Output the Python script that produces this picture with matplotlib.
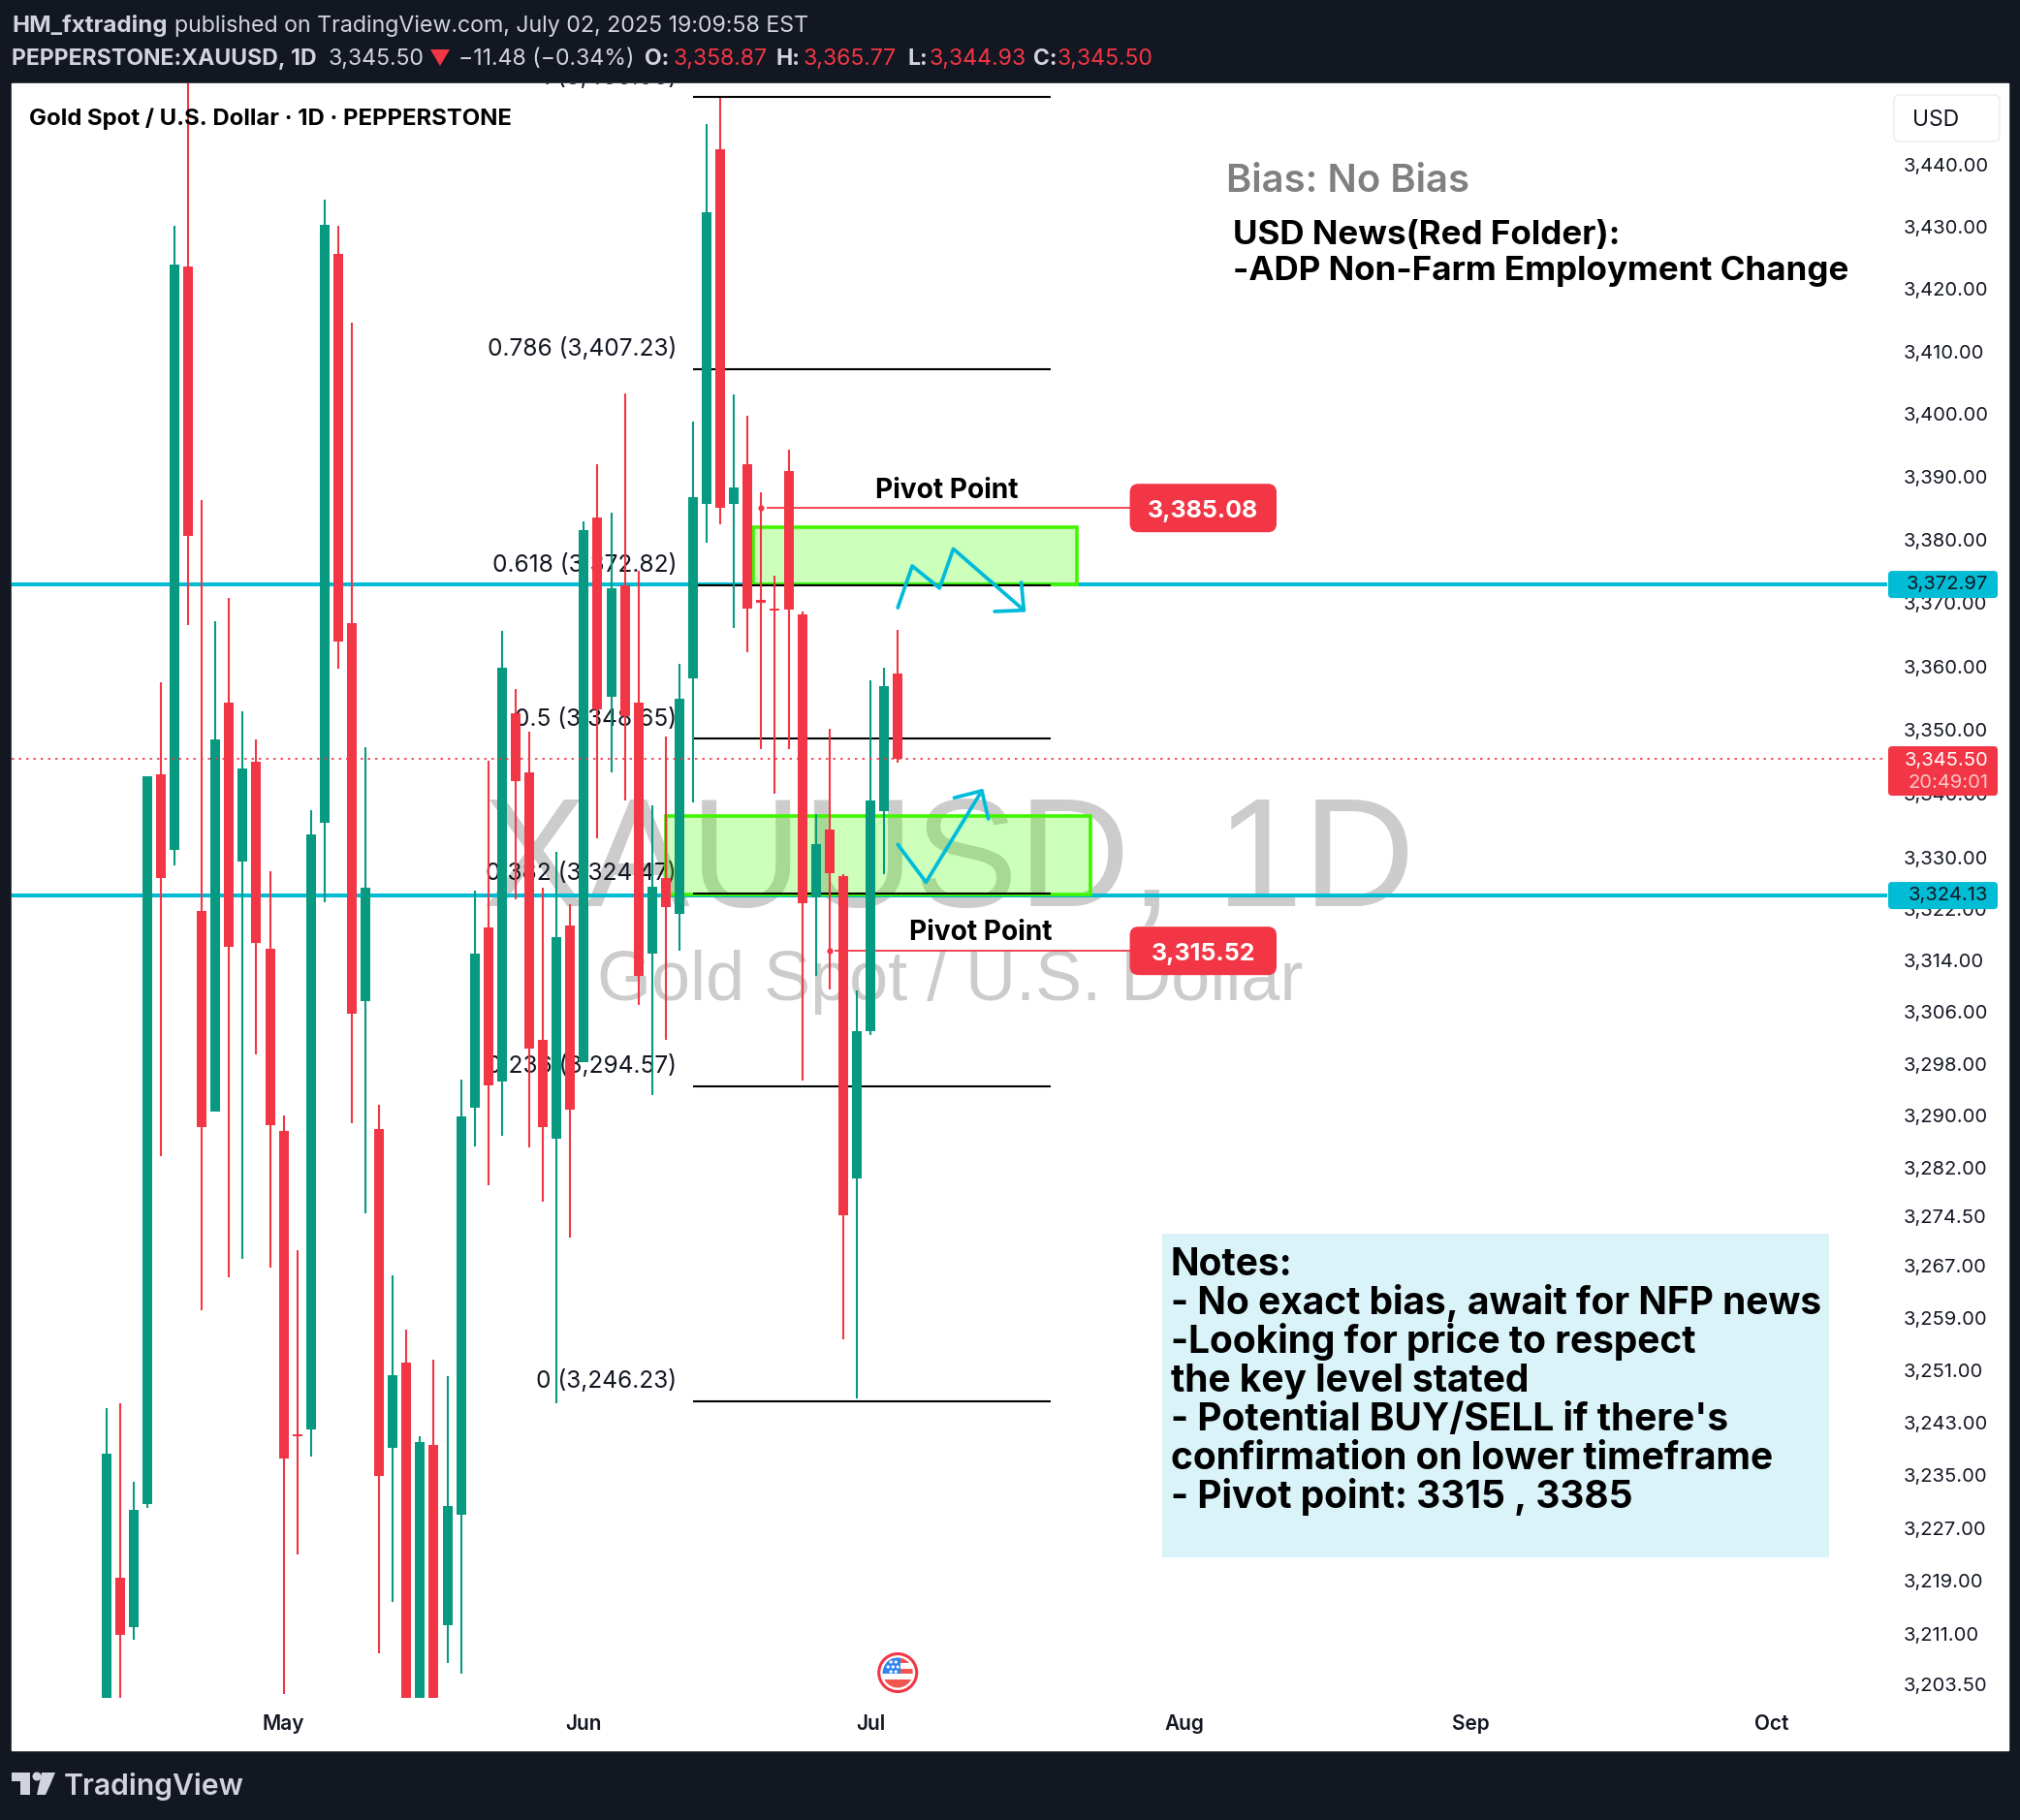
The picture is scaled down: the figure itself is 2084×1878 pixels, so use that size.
import matplotlib
matplotlib.use('Agg')
import matplotlib.pyplot as plt
from matplotlib.patches import Rectangle, FancyBboxPatch, Circle, Polygon
from matplotlib.ticker import NullLocator, NullFormatter

W, H = 2084, 1878
DARK = '#131722'
RED = '#F23645'
GREEN = '#089981'
CYAN = '#00BCD4'
LIME = '#46FF00'
FONT = 'Inter'

# daily candles (values under the chart bottom are estimates)
opens = [3175.0, 3219.5, 3212.1, 3230.6, 3343.1, 3331.2, 3423.6, 3321.8, 3290.6, 3354.3,
         3329.4, 3345.0, 3315.9, 3287.7, 3241.2, 3242.0, 3335.5, 3425.6, 3366.9, 3307.7,
         3287.9, 3239.1, 3252.2, 3195.0, 3239.6, 3212.4, 3229.0, 3291.2, 3319.1, 3295.2,
         3352.7, 3343.4, 3301.7, 3286.4, 3319.4, 3298.2, 3383.5, 3355.2, 3372.9, 3354.3,
         3315.1, 3326.8, 3321.2, 3358.1, 3385.8, 3442.5, 3385.8, 3392.0, 3370.5, 3369.2,
         3391.0, 3368.2, 3323.9, 3334.5, 3327.1, 3280.3, 3303.0, 3337.3, 3358.87]
highs = [3245.2, 3245.9, 3234.0, 3342.7, 3357.6, 3430.2, 3455.0, 3386.3, 3367.2, 3370.8,
         3352.9, 3348.5, 3327.9, 3290.1, 3269.3, 3337.4, 3434.4, 3430.1, 3414.6, 3347.3,
         3291.7, 3265.4, 3257.2, 3240.9, 3252.5, 3250.0, 3295.6, 3324.9, 3345.2, 3365.7,
         3356.5, 3349.7, 3325.4, 3331.0, 3322.8, 3382.9, 3392.0, 3384.3, 3403.3, 3375.2,
         3338.2, 3349.0, 3360.5, 3398.8, 3446.5, 3450.8, 3403.2, 3399.7, 3387.6, 3374.4,
         3394.4, 3368.7, 3336.8, 3350.2, 3327.4, 3309.3, 3357.9, 3359.8, 3365.77]
lows = [3170.0, 3195.0, 3210.2, 3230.0, 3283.8, 3328.9, 3366.6, 3260.1, 3290.6, 3265.1,
        3268.0, 3299.5, 3266.7, 3202.0, 3223.0, 3237.9, 3323.1, 3359.7, 3288.8, 3274.9,
        3208.1, 3215.8, 3190.0, 3190.0, 3190.0, 3206.7, 3205.0, 3285.3, 3279.3, 3286.9,
        3323.6, 3285.1, 3276.7, 3245.9, 3271.3, 3298.2, 3333.1, 3343.4, 3339.0, 3307.1,
        3293.1, 3301.7, 3315.6, 3338.7, 3379.6, 3382.5, 3366.1, 3362.3, 3347.1, 3340.0,
        3347.0, 3295.4, 3311.7, 3309.5, 3255.7, 3246.6, 3302.4, 3327.4, 3344.93]
closes = [3238.2, 3210.9, 3229.8, 3342.7, 3326.8, 3424.0, 3380.6, 3288.2, 3348.5, 3316.1,
          3344.0, 3316.7, 3288.5, 3237.6, 3240.9, 3333.6, 3430.4, 3363.9, 3305.7, 3325.4,
          3234.9, 3250.2, 3195.0, 3240.1, 3195.0, 3230.4, 3289.9, 3315.1, 3294.7, 3359.8,
          3342.0, 3300.4, 3288.3, 3317.7, 3291.0, 3381.6, 3353.2, 3372.3, 3352.2, 3311.7,
          3325.5, 3322.3, 3355.0, 3386.8, 3432.4, 3385.1, 3388.4, 3369.2, 3370.1, 3368.8,
          3369.0, 3323.0, 3332.1, 3327.6, 3274.6, 3303.0, 3339.0, 3356.9, 3345.50]

price_ticks = [3440, 3430, 3420, 3410, 3400, 3390, 3380, 3370, 3360, 3350, 3340, 3330,
               3322, 3314, 3306, 3298, 3290, 3282, 3274.5, 3267, 3259, 3251, 3243, 3235,
               3227, 3219, 3211, 3203.5]
month_bars = [13, 35, 56, 79, 100, 122]
month_names = ['May', 'Jun', 'Jul', 'Aug', 'Sep', 'Oct']

fib_ratio = [1, 0.786, 0.618, 0.5, 0.382, 0.236, 0]
fib_price = [3450.9, 3407.23, 3372.82, 3348.65, 3324.47, 3294.57, 3246.23]
fib_bars = [43, 69.2]

levels = [3372.97, 3324.13]
last_price = 3345.50
zones = [(47.4, 71.1, 3372.97, 3382.0), (41.0, 72.1, 3324.3, 3336.5)]
pivot_price = [3385.08, 3315.52]
pivot_bar = [48, 53]
pivot_end = 75.0

path_up_x = [58.0, 59.06, 61.06, 62.07, 67.24]
path_up_y = [3369.3, 3375.9, 3372.4, 3378.6, 3368.9]
head_up_x = [65.1, 67.24, 67.05]
head_up_y = [3368.7, 3368.9, 3373.3]
path_dn_x = [58.0, 60.07, 64.16]
path_dn_y = [3332.1, 3326.2, 3340.5]
head_dn_x = [62.14, 64.16, 64.64]
head_dn_y = [3339.4, 3340.5, 3336.1]

notes = ['Notes:', '- No exact bias, await for NFP news', '-Looking for price to respect',
         'the key level stated', "- Potential BUY/SELL if there's",
         'confirmation on lower timeframe', '- Pivot point: 3315 , 3385']

fig = plt.figure(figsize=(W / 100, H / 100), dpi=100, facecolor=DARK)
fig.add_artist(Rectangle((12 / W, 1 - 1806 / H), 2060 / W, 1720 / H, color='white',
                         transform=fig.transFigure, zorder=-1))

# main chart
ax = fig.add_axes([12 / W, 1 - 1752 / H, 1935 / W, 1666 / H], zorder=1)
ax.set_yscale('log')
ax.set_ylim(3201.4, 3453.16)
ax.set_xlim(-6.93, 130.5)
for s in ax.spines.values():
    s.set_visible(False)

# watermark
ax.text(0.2510, 0.4905, 'XAUUSD, 1D', transform=ax.transAxes, fontsize=115.4, color='#CCCCCC',
        family='Liberation Sans', ha='left', va='baseline', zorder=0)
ax.text(0.3122, 0.4322, 'Gold Spot / U.S. Dollar', transform=ax.transAxes, fontsize=51.8, color='#CCCCCC',
        family='Liberation Sans', ha='left', va='baseline', zorder=0)

# levels and zones
ax.hlines(levels, -6.93, 130.5, color=CYAN, lw=2.9, zorder=1)
for x0, x1, lo, hi in zones:
    ax.add_patch(Rectangle((x0, lo), x1 - x0, hi - lo, facecolor=LIME, alpha=0.27, lw=0, zorder=2))
    ax.add_patch(Rectangle((x0, lo), x1 - x0, hi - lo, facecolor='none', edgecolor='#41F500', lw=2.6, zorder=2))

# fib
ax.hlines(fib_price, fib_bars[0], fib_bars[1], color='black', lw=1.5, zorder=3)
for r, p in zip(fib_ratio, fib_price):
    ax.annotate(f'{r} ({p:,.2f})' if r else '0 (3,246.23)', xy=(41.8, p), xytext=(0, 15), textcoords='offset points',
                ha='right', va='center', fontsize=17.6, color='#131722', family=FONT,
                zorder=1.5, clip_on=True)

# pivots
for p, b in zip(pivot_price, pivot_bar):
    ax.hlines(p, b + 0.4, pivot_end, color=RED, lw=1.3, zorder=3)
    ax.plot([b], [p], 'o', color=RED, ms=4.5, mew=0, zorder=3)

# candles
for i, (o, h, l, c) in enumerate(zip(opens, highs, lows, closes)):
    col = GREEN if c >= o else RED
    ax.vlines(i, l, h, color=col, lw=1.5, zorder=5)
    ax.bar(i, abs(c - o), bottom=min(o, c), width=0.71, color=col, lw=0, zorder=5)

ax.hlines(last_price, -6.93, 130.5, color=RED, lw=1.2, linestyles=(0, (1.5, 3)), zorder=6)

# hand drawn arrows
for xs, ys in [(path_up_x, path_up_y), (head_up_x, head_up_y), (path_dn_x, path_dn_y), (head_dn_x, head_dn_y)]:
    ax.plot(xs, ys, color='#00BCDA', lw=2.7, solid_joinstyle='round', solid_capstyle='round', zorder=7)

ax.yaxis.tick_right()
ax.yaxis.set_minor_locator(NullLocator())
ax.yaxis.set_minor_formatter(NullFormatter())
ax.set_yticks(price_ticks)
ax.set_yticklabels([f'{v:,.2f}' for v in price_ticks], fontsize=14.5, family=FONT, color='#131722')
ax.tick_params(axis='y', length=0, pad=12)
ax.set_xticks(month_bars)
ax.set_xticklabels(month_names, fontsize=15, family=FONT, weight='semibold', color='#131722')
ax.tick_params(axis='x', length=0, pad=12)

# pixel overlay for tags, header and texts
ov = fig.add_axes([0, 0, 1, 1], zorder=10)
ov.set_xlim(0, W)
ov.set_ylim(H, 0)
ov.axis('off')


def price_y(p):
    return H - ax.transData.transform((0, p))[1]


def bar_x(b):
    return ax.transData.transform((b, 3300))[0]


def tag(x0, x1, y0, y1, col, rad=4):
    ov.add_patch(FancyBboxPatch((x0 + rad, y0 + rad), x1 - x0 - 2 * rad, y1 - y0 - 2 * rad,
                                boxstyle=f'round,pad={rad},rounding_size={rad}', facecolor=col, lw=0))


def txt(x, y, s, size=16, col='black', weight='normal', ha='left', fam=FONT):
    return ov.text(x, y, s, fontsize=size, color=col, weight=weight, ha=ha, va='center', family=fam)


for lv in levels:
    y = price_y(lv)
    tag(1948, 2061, y - 14, y + 14, CYAN)
    txt(2051, y, f'{lv:,.2f}', 14.5, '#131722', ha='right')

y = price_y(last_price)
tag(1948, 2061, y - 13, y + 38, RED)
txt(2051, y + 2, f'{last_price:,.2f}', 14.5, 'white', ha='right')
txt(2051, y + 25, '20:49:01', 14.5, '#FBC5CA', ha='right')

for p in pivot_price:
    y = price_y(p)
    x0 = bar_x(pivot_end)
    tag(x0, 1317, y - 25, y + 25, RED, rad=9)
    txt((x0 + 1317) / 2, y + 3, f'{p:,.2f}', 18, 'white', 'bold', ha='center')

txt(977, 506, 'Pivot Point', 20.2, 'black', 'bold', ha='center')
txt(1012, 962, 'Pivot Point', 20.2, 'black', 'bold', ha='center')

# usd box
ov.add_patch(FancyBboxPatch((1960, 104), 97, 36, boxstyle='round,pad=6,rounding_size=6',
                            facecolor='white', edgecolor='#E8EAEF', lw=1))
txt(1997, 124, 'USD', 16.5, '#131722', ha='center')

# chart title
txt(30, 123, 'Gold Spot / U.S. Dollar · 1D · PEPPERSTONE', 17.2, 'black', 'bold')

# text notes
txt(1265, 187, 'Bias: No Bias', 28.8, '#808080', 'semibold')
txt(1272, 243, 'USD News(Red Folder):', 25.2, 'black', 'bold')
txt(1272, 280, '-ADP Non-Farm Employment Change', 25.2, 'black', 'bold')
ov.add_patch(Rectangle((1199, 1273), 688, 334, facecolor='#D9F3F9', lw=0))
for i, line in enumerate(notes):
    txt(1208, 1305 + i * 40, line, 28, 'black', 'bold')

# header
HEAD = '#D1D4DC'
txt(12, 27, 'HM_fxtrading', 17.4, HEAD, 'bold')
txt(180, 27, 'published on TradingView.com, July 02, 2025 19:09:58 EST', 16.7, HEAD)
txt(12, 61, 'PEPPERSTONE:XAUUSD, 1D', 16.6, HEAD, 'bold')
txt(339, 61, '3,345.50', 16.6, HEAD)
ov.add_patch(Polygon([(444, 51), (464, 51), (454, 68)], facecolor=RED, lw=0))
txt(473, 61, '−11.48 (−0.34%)', 16.6, HEAD)
for x_l, lab, x_v, val in [(665, 'O:', 694, '3,358.87'), (801, 'H:', 828, '3,365.77'),
                           (936, 'L:', 958, '3,344.93'), (1066, 'C:', 1090, '3,345.50')]:
    txt(x_l, 61, lab, 16.6, HEAD, 'bold')
    txt(x_v, 61, val, 16.6, RED)

# footer logo
ov.add_patch(Polygon([(12, 1829), (31, 1829), (31, 1852), (21, 1852), (21, 1838), (12, 1838)], facecolor=HEAD, lw=0))
ov.add_patch(Circle((38, 1833), 4.5, facecolor=HEAD, lw=0))
ov.add_patch(Polygon([(43, 1829), (57, 1829), (52, 1841), (47, 1852), (38, 1852)], facecolor=HEAD, lw=0))
txt(66, 1844, 'TradingView', 21.7, HEAD, 'semibold')

# event flag
fx, fy = bar_x(58), 1726
ov.add_patch(Circle((fx, fy), 19.5, facecolor='white', edgecolor=RED, lw=2.2))
disc = Circle((fx, fy), 15.5, facecolor='white', lw=0)
ov.add_patch(disc)
for k in range(3):
    st = Rectangle((fx - 17, fy - 15 + k * 11), 34, 5 + (k == 2) * 8, facecolor='#F2564F', lw=0)
    ov.add_patch(st)
    st.set_clip_path(disc)
cant = Rectangle((fx - 17, fy - 17), 20, 18, facecolor='#2E86F0', lw=0)
ov.add_patch(cant)
cant.set_clip_path(disc)
for row in range(3):
    for col in range(3 - (row % 2 == 0) * 1):
        ov.add_patch(Circle((fx - 10 + col * 5 + (row % 2 == 0) * 3, fy - 11 + row * 5), 1.6, facecolor='white', lw=0))

fig.savefig('out.png', dpi=100, facecolor=fig.get_facecolor())
